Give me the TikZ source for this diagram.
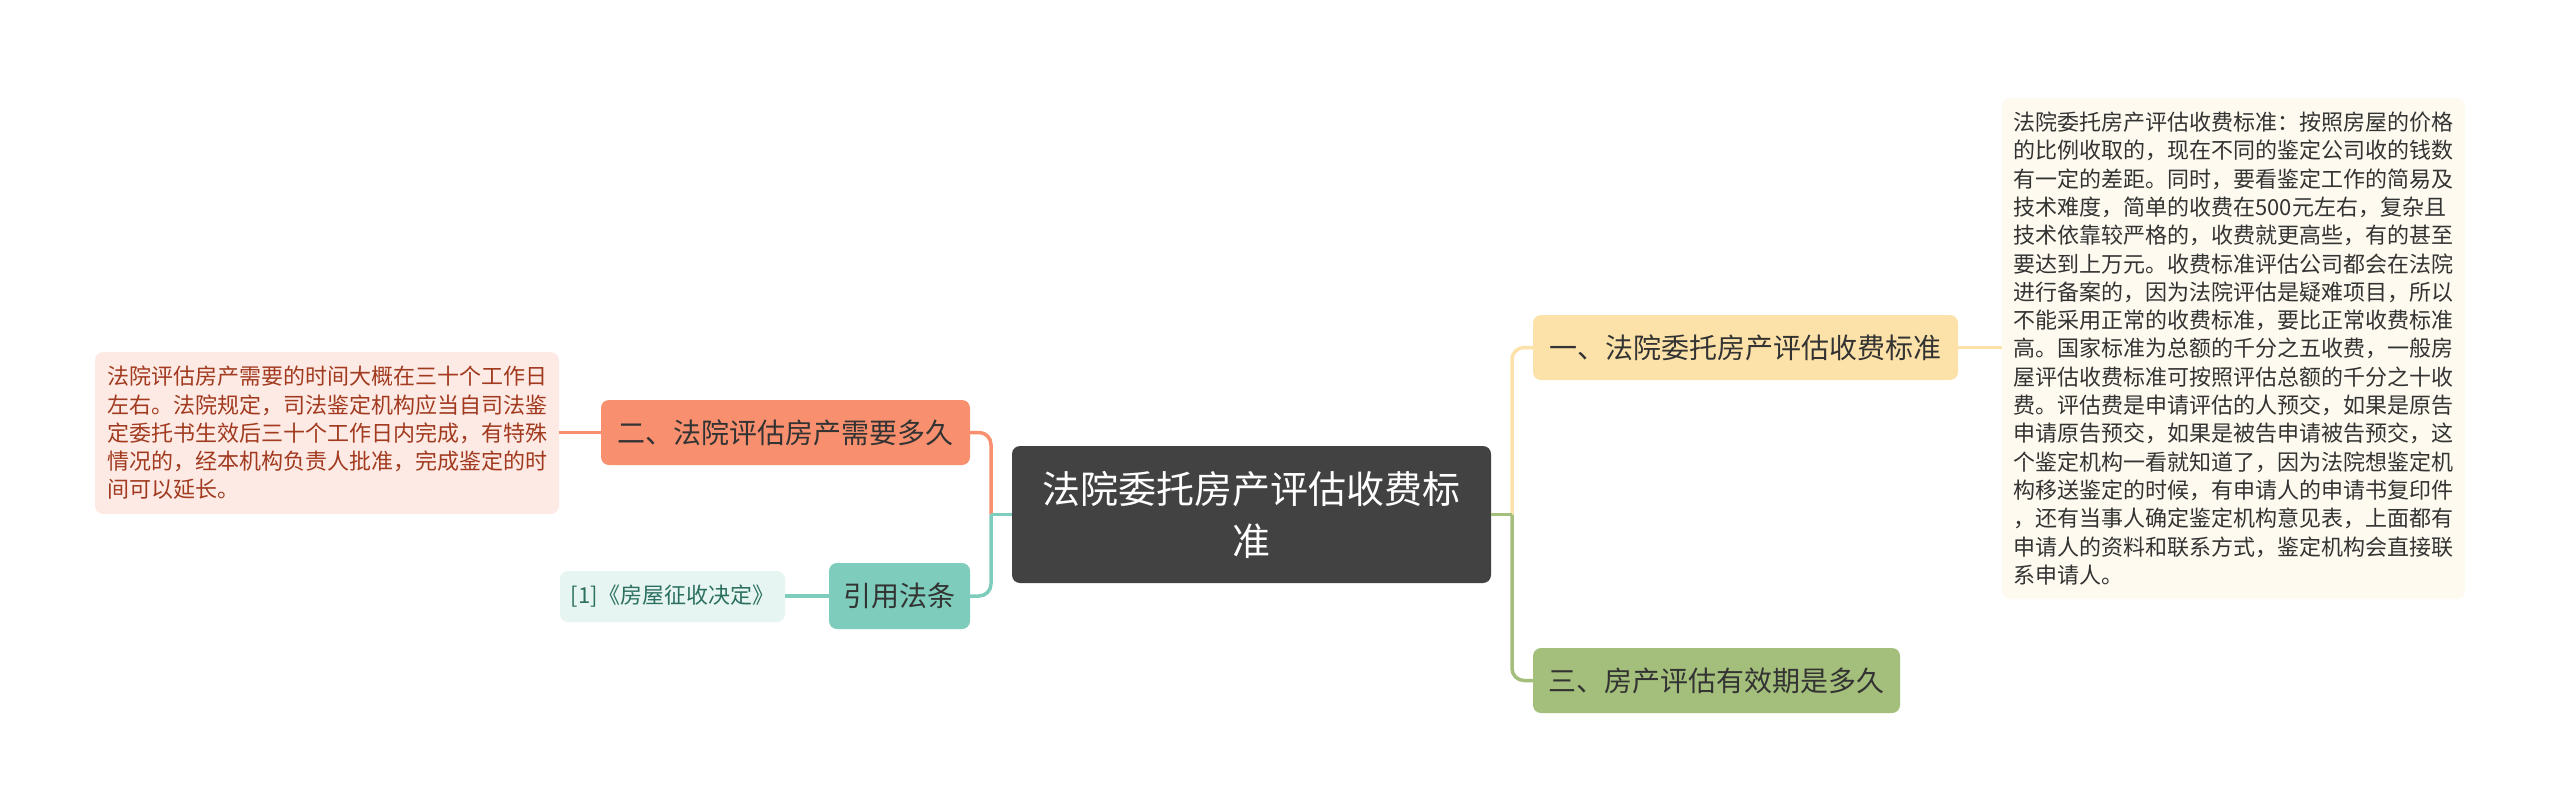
\documentclass[tikz,border=0pt]{standalone}
\usepackage{fontspec}
\setmainfont{Noto Sans CJK SC}
\definecolor{cdark}{HTML}{424242}
\definecolor{corange}{HTML}{F8906F}
\definecolor{cteal}{HTML}{7ECCBC}
\definecolor{cyellow}{HTML}{FCE2A8}
\definecolor{cgreen}{HTML}{A4BF7B}
\definecolor{lpink}{HTML}{FDEAE5}
\definecolor{lteal}{HTML}{E6F5F1}
\definecolor{lcream}{HTML}{FEFAEF}
\definecolor{tred}{HTML}{A13A1F}
\definecolor{tteal}{HTML}{2A6F60}
\definecolor{tdark}{HTML}{333333}
\begin{document}
\begin{tikzpicture}[x=1pt,y=-1pt,
  box/.style={rounded corners=8pt, inner sep=0pt, align=center},
  mainbox/.style={box, fill=cdark, text=white, minimum width=479pt, minimum height=137pt, font=\fontsize{38}{52}\selectfont},
  subbox/.style={box, minimum height=65pt, text=tdark, font=\fontsize{28}{34}\selectfont},
  leafbox/.style={rounded corners=8pt, align=left, font=\fontsize{22}{28.3}\selectfont},
  conn/.style={line width=3.5pt},
  elbow/.style={conn, rounded corners=12pt}
]
\useasboundingbox[fill=white] (0,0) rectangle (2560,809);

\node[mainbox] (c) at (1251.5,514.5) {法院委托房产评估收费标\\准};

\node[subbox, fill=corange, minimum width=369pt] (n2) at (785.5,432.5) {二、法院评估房产需要多久};
\node[subbox, fill=cteal, minimum width=141pt, minimum height=66pt] (n3) at (899.5,596) {引用法条};
\node[subbox, fill=cyellow, minimum width=425pt] (n1) at (1745.5,347.5) {一、法院委托房产评估收费标准};
\node[subbox, fill=cgreen, minimum width=367pt] (n4) at (1716.5,680.5) {三、房产评估有效期是多久};

\node[leafbox, fill=lpink, text=tred, inner xsep=12pt, inner ysep=14pt] (l2) at (327,433) {法院评估房产需要的时间大概在三十个工作日\\左右。法院规定，司法鉴定机构应当自司法鉴\\定委托书生效后三十个工作日内完成，有特殊\\情况的，经本机构负责人批准，完成鉴定的时\\间可以延长。};

\node[box, fill=lteal, text=tteal, minimum width=225pt, minimum height=51pt, font=\fontsize{22}{26}\selectfont] (l3) at (672.5,596.5) {[1]《房屋征收决定》};

\node[leafbox, fill=lcream, text=tdark, inner xsep=11.5pt, inner ysep=14pt] (l1) at (2233.5,348.5) {法院委托房产评估收费标准：按照房屋的价格\\的比例收取的，现在不同的鉴定公司收的钱数\\有一定的差距。同时，要看鉴定工作的简易及\\技术难度，简单的收费在500元左右，复杂且\\技术依靠较严格的，收费就更高些，有的甚至\\要达到上万元。收费标准评估公司都会在法院\\进行备案的，因为法院评估是疑难项目，所以\\不能采用正常的收费标准，要比正常收费标准\\高。国家标准为总额的千分之五收费，一般房\\屋评估收费标准可按照评估总额的千分之十收\\费。评估费是申请评估的人预交，如果是原告\\申请原告预交，如果是被告申请被告预交，这\\个鉴定机构一看就知道了，因为法院想鉴定机\\构移送鉴定的时候，有申请人的申请书复印件\\，还有当事人确定鉴定机构意见表，上面都有\\申请人的资料和联系方式，鉴定机构会直接联\\系申请人。};

\coordinate (lj) at (991,514.5);
\coordinate (rj) at (1512,514.5);

\draw[elbow, corange] (n2.east) -| (lj);
\draw[elbow, cteal] (n3.east) -| (lj);
\draw[conn, cteal] (lj) -- (c.west);
\draw[elbow, cyellow] (n1.west) -| (rj);
\draw[elbow, cgreen] (n4.west) -| (rj);
\draw[conn, cgreen] (rj) -- (c.east);
\draw[conn, corange] (n2.west) -- (n2.west -| l2.east);
\draw[conn, cteal] (n3.west) -- (n3.west -| l3.east);
\draw[conn, cyellow] (n1.east) -- (n1.east -| l1.west);
\end{tikzpicture}
\end{document}
